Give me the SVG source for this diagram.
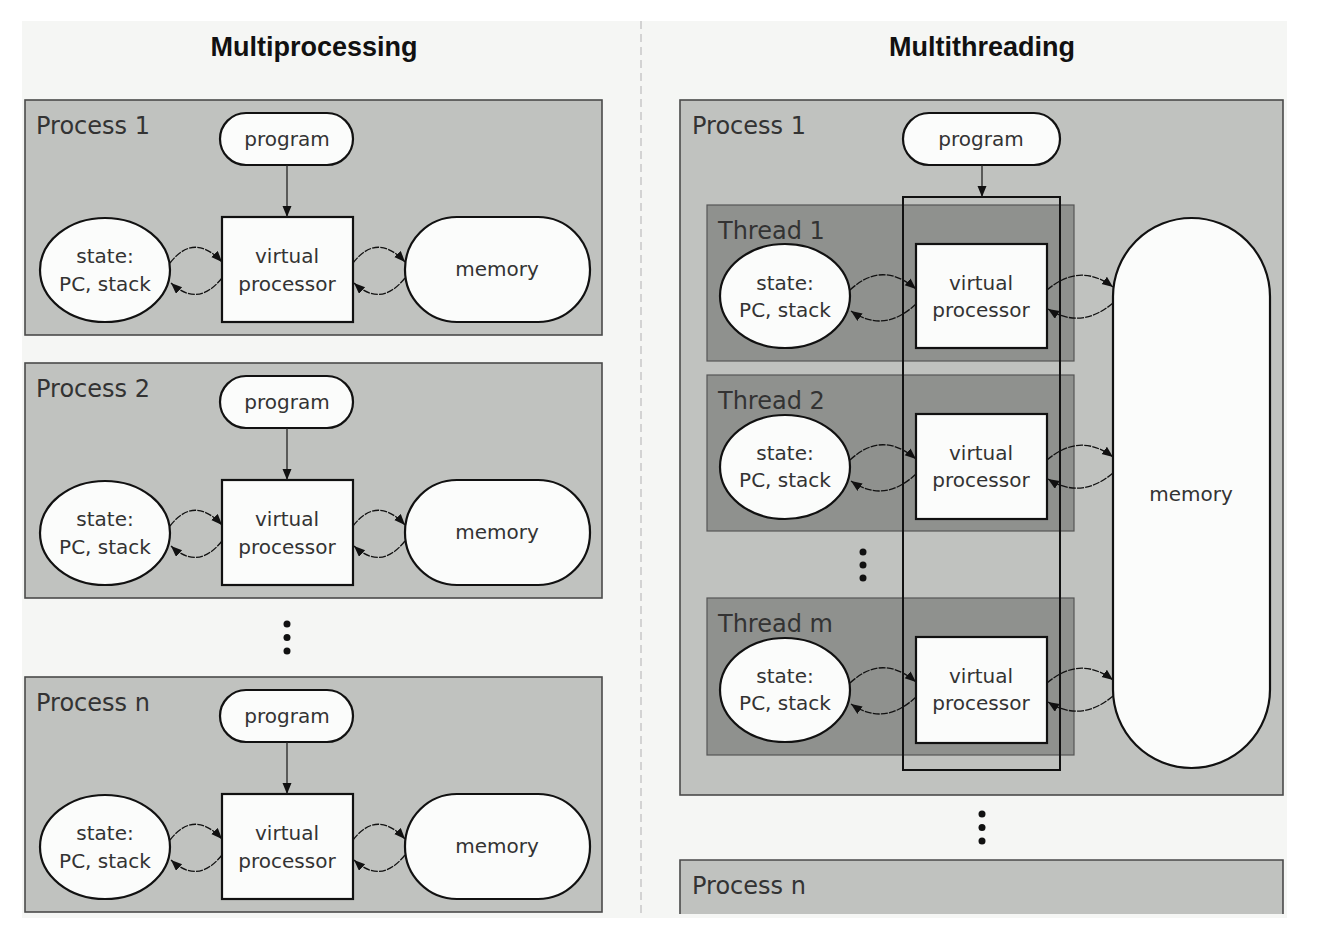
<svg xmlns="http://www.w3.org/2000/svg" width="1322" height="930" viewBox="0 0 1322 930">
<style>
.bg{fill:#f5f6f4}
.proc{fill:#c0c2bf;stroke:#4a4a4a;stroke-width:1.6}
.thread{fill:#8f918e;stroke:#555;stroke-width:1.2}
.node{fill:#fbfcfb;stroke:#111;stroke-width:2.2}
.title{font-family:"Liberation Sans",Arial,sans-serif;font-weight:bold;font-size:27px;fill:#111;text-anchor:middle}
.plabel{font-family:"DejaVu Sans",sans-serif;font-size:24px;fill:#333}
.t{font-family:"DejaVu Sans",sans-serif;font-size:20px;fill:#333;text-anchor:middle}
.arc{fill:none;stroke:#111;stroke-width:1.3;stroke-dasharray:7 1.2;marker-end:url(#ah)}
.line{fill:none;stroke:#222;stroke-width:1.3;marker-end:url(#ah)}
.dot{fill:#111}
</style>
<defs>
<marker id="ah" markerUnits="userSpaceOnUse" markerWidth="12" markerHeight="10" refX="11" refY="4.5" orient="auto">
<path d="M0,0 L11,4.5 L0,9 z" fill="#111"/>
</marker>
</defs>
<rect class="bg" x="22" y="21" width="1265" height="897"/>
<line x1="641" y1="21" x2="641" y2="918" stroke="#c8c8c8" stroke-width="1.5" stroke-dasharray="8 5"/>
<text class="title" x="314" y="56">Multiprocessing</text>
<text class="title" x="982" y="56">Multithreading</text>

<!-- Left side processes -->
<g id="mp-process1">
<rect class="proc" x="25" y="100" width="577" height="235"/>
<text class="plabel" x="36" y="134">Process 1</text>
<g id="mp1-program"><rect class="node" x="220" y="113" width="133" height="52" rx="26"/><text class="t" x="287" y="146">program</text></g>
<g id="mp1-vp"><rect class="node" x="222" y="217" width="131" height="105"/><text class="t" x="287" y="263">virtual</text><text class="t" x="287" y="291">processor</text></g>
<g id="mp1-state"><ellipse class="node" cx="105" cy="270" rx="65" ry="52"/><text class="t" x="105" y="263">state:</text><text class="t" x="105" y="291">PC, stack</text></g>
<g id="mp1-memory"><rect class="node" x="405" y="217" width="185" height="105" rx="52"/><text class="t" x="497" y="276">memory</text></g>
</g>
<g id="mp-process2" transform="translate(0,263)">
<rect class="proc" x="25" y="100" width="577" height="235"/>
<text class="plabel" x="36" y="134">Process 2</text>
<g id="mp2-program"><rect class="node" x="220" y="113" width="133" height="52" rx="26"/><text class="t" x="287" y="146">program</text></g>
<g id="mp2-vp"><rect class="node" x="222" y="217" width="131" height="105"/><text class="t" x="287" y="263">virtual</text><text class="t" x="287" y="291">processor</text></g>
<g id="mp2-state"><ellipse class="node" cx="105" cy="270" rx="65" ry="52"/><text class="t" x="105" y="263">state:</text><text class="t" x="105" y="291">PC, stack</text></g>
<g id="mp2-memory"><rect class="node" x="405" y="217" width="185" height="105" rx="52"/><text class="t" x="497" y="276">memory</text></g>
</g>
<g id="mp-processn" transform="translate(0,577)">
<rect class="proc" x="25" y="100" width="577" height="235"/>
<text class="plabel" x="36" y="134">Process n</text>
<g id="mpn-program"><rect class="node" x="220" y="113" width="133" height="52" rx="26"/><text class="t" x="287" y="146">program</text></g>
<g id="mpn-vp"><rect class="node" x="222" y="217" width="131" height="105"/><text class="t" x="287" y="263">virtual</text><text class="t" x="287" y="291">processor</text></g>
<g id="mpn-state"><ellipse class="node" cx="105" cy="270" rx="65" ry="52"/><text class="t" x="105" y="263">state:</text><text class="t" x="105" y="291">PC, stack</text></g>
<g id="mpn-memory"><rect class="node" x="405" y="217" width="185" height="105" rx="52"/><text class="t" x="497" y="276">memory</text></g>
</g>
<g id="mp-dots"><circle class="dot" cx="287" cy="624" r="3.5"/><circle class="dot" cx="287" cy="637.5" r="3.5"/><circle class="dot" cx="287" cy="651" r="3.5"/></g>

<!-- Right side -->
<g id="mt-process1">
<rect class="proc" x="680" y="100" width="603" height="695"/>
<text class="plabel" x="692" y="134">Process 1</text>
<g id="mt-program"><rect class="node" x="903" y="113" width="157" height="52" rx="26"/><text class="t" x="981" y="146">program</text></g>
<g id="mt-memory"><rect class="node" x="1113" y="218" width="157" height="550" rx="78.5"/><text class="t" x="1191" y="501">memory</text></g>
</g>
<g id="mt-thread1">
<rect class="thread" x="707" y="205" width="367" height="156"/>
<text class="plabel" x="718" y="239">Thread 1</text>
<ellipse class="node" cx="785" cy="296" rx="65" ry="52"/><text class="t" x="785" y="290">state:</text><text class="t" x="785" y="317">PC, stack</text>
<rect class="node" x="916" y="244" width="131" height="104"/><text class="t" x="981" y="290">virtual</text><text class="t" x="981" y="317">processor</text>
</g>
<g id="mt-thread2" transform="translate(0,170)">
<rect class="thread" x="707" y="205" width="367" height="156"/>
<text class="plabel" x="718" y="239">Thread 2</text>
<ellipse class="node" cx="785" cy="297" rx="65" ry="52"/><text class="t" x="785" y="290">state:</text><text class="t" x="785" y="317">PC, stack</text>
<rect class="node" x="916" y="244" width="131" height="105"/><text class="t" x="981" y="290">virtual</text><text class="t" x="981" y="317">processor</text>
</g>
<g id="mt-threadm" transform="translate(0,393)">
<rect class="thread" x="707" y="205" width="367" height="157"/>
<text class="plabel" x="718" y="239">Thread m</text>
<ellipse class="node" cx="785" cy="297" rx="65" ry="52"/><text class="t" x="785" y="290">state:</text><text class="t" x="785" y="317">PC, stack</text>
<rect class="node" x="916" y="244" width="131" height="106"/><text class="t" x="981" y="290">virtual</text><text class="t" x="981" y="317">processor</text>
</g>
<g id="mt-vpgroup"><rect x="903" y="197" width="157" height="573" fill="none" stroke="#111" stroke-width="2"/></g>
<g id="mt-thread-dots"><circle class="dot" cx="863" cy="552" r="3.5"/><circle class="dot" cx="863" cy="565" r="3.5"/><circle class="dot" cx="863" cy="578" r="3.5"/></g>
<g id="mt-dots"><circle class="dot" cx="982" cy="814" r="3.5"/><circle class="dot" cx="982" cy="827.5" r="3.5"/><circle class="dot" cx="982" cy="841" r="3.5"/></g>
<g id="mt-processn">
<path d="M680,914 V860 H1283 V914" fill="#c0c2bf"/>
<path d="M680,914 V860 H1283 V914" fill="none" stroke="#4a4a4a" stroke-width="1.6"/>
<text class="plabel" x="692" y="894">Process n</text>
</g>

<g id="connectors">
<path class="line" d="M287,165 V217"/>
<path class="arc" d="M170,263 Q194,232 222,262"/>
<path class="arc" d="M222,278 Q198,308 171,283"/>
<path class="arc" d="M353,263 Q377,232 405,262"/>
<path class="arc" d="M405,278 Q381,308 354,283"/>
<g transform="translate(0,263)">
<path class="line" d="M287,165 V217"/>
<path class="arc" d="M170,263 Q194,232 222,262"/>
<path class="arc" d="M222,278 Q198,308 171,283"/>
<path class="arc" d="M353,263 Q377,232 405,262"/>
<path class="arc" d="M405,278 Q381,308 354,283"/>
</g>
<g transform="translate(0,577)">
<path class="line" d="M287,165 V217"/>
<path class="arc" d="M170,263 Q194,232 222,262"/>
<path class="arc" d="M222,278 Q198,308 171,283"/>
<path class="arc" d="M353,263 Q377,232 405,262"/>
<path class="arc" d="M405,278 Q381,308 354,283"/>
</g>
<path class="line" d="M982,165 V197"/>
<g id="mt-arcs1">
<path class="arc" d="M850,290 Q882,260 916,289"/>
<path class="arc" d="M916,304 Q884,334 851,311"/>
<path class="arc" d="M1047,290 Q1080,262 1113,287"/>
<path class="arc" d="M1113,303 Q1081,330 1048,309"/>
</g>
<g transform="translate(0,170)">
<path class="arc" d="M850,290 Q882,260 916,289"/>
<path class="arc" d="M916,304 Q884,334 851,311"/>
<path class="arc" d="M1047,290 Q1080,262 1113,287"/>
<path class="arc" d="M1113,303 Q1081,330 1048,309"/>
</g>
<g transform="translate(0,393)">
<path class="arc" d="M850,290 Q882,260 916,289"/>
<path class="arc" d="M916,304 Q884,334 851,311"/>
<path class="arc" d="M1047,290 Q1080,262 1113,287"/>
<path class="arc" d="M1113,303 Q1081,330 1048,309"/>
</g>
</g>
</svg>
